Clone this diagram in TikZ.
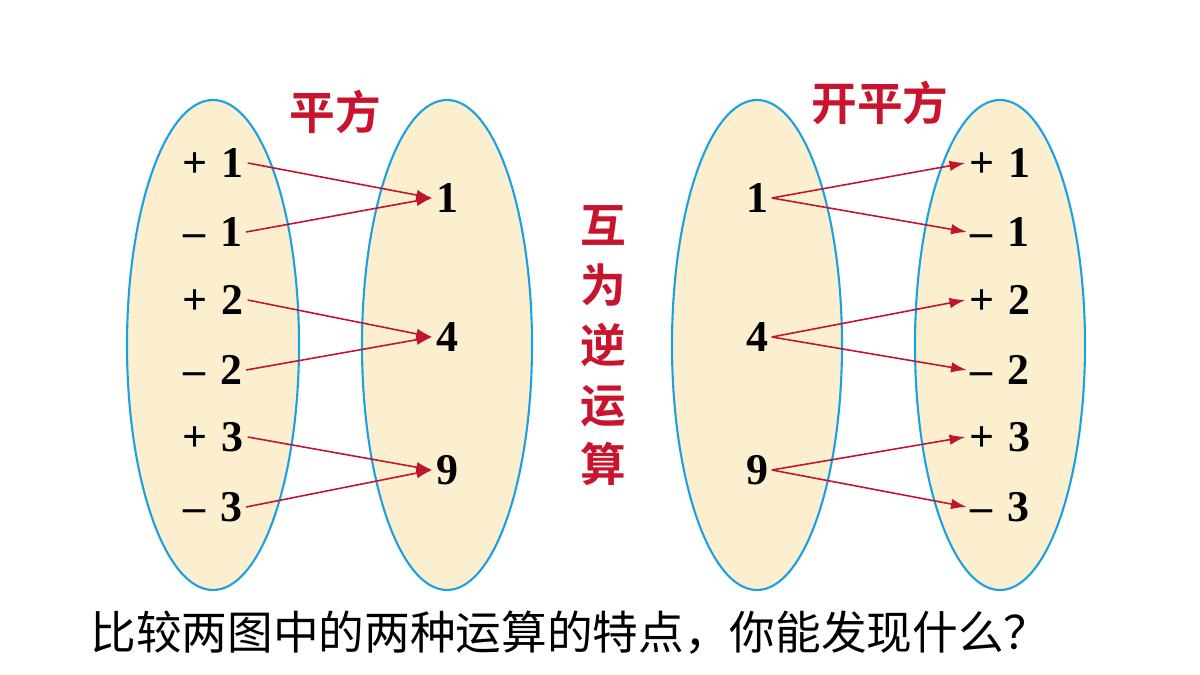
\documentclass[tikz,border=0pt]{standalone}
\usepackage{fontspec}
\setmainfont{Liberation Serif}
\newfontfamily\cjk{Noto Sans CJK SC}
\newfontfamily\cjkbold{Noto Sans CJK SC Bold}
\usetikzlibrary{arrows.meta}
\definecolor{setfill}{RGB}{251,239,208}
\definecolor{setline}{RGB}{27,161,226}
\definecolor{maparrow}{RGB}{192,21,47}
\definecolor{optext}{RGB}{200,20,45}
\begin{document}
\begin{tikzpicture}[x=0.02cm,y=-0.02cm,>={Latex[length=9pt,width=6pt]},
    setbox/.style={draw=setline,fill=setfill,line width=1.2pt},
    num/.style={font=\fontsize{25}{28}\selectfont\bfseries,inner sep=2pt},
    op/.style={text=optext,font=\cjkbold\fontsize{26}{30}\selectfont},
    maplink/.style={->,draw=maparrow,line width=0.9pt}]
\useasboundingbox (0,0) rectangle (1200,675);

% the four sets
\draw[setbox] (213,345) ellipse (86 and 245);
\draw[setbox] (447,345) ellipse (85 and 245);
\draw[setbox] (757,345) ellipse (85 and 245);
\draw[setbox] (1000,345) ellipse (85 and 245);

% left picture: squaring
\node[num] (lp1) at (213,163) {+\,\,1};
\node[num] (lm1) at (213,232) {\textendash\,\,1};
\node[num] (lp2) at (213,300) {+\,\,2};
\node[num] (lm2) at (213,370) {\textendash\,\,2};
\node[num] (lp3) at (213,437) {+\,\,3};
\node[num] (lm3) at (213,507) {\textendash\,\,3};
\node[num] (ls1) at (447,198) {1};
\node[num] (ls4) at (447,337) {4};
\node[num] (ls9) at (447,470) {9};
\foreach \a/\b in {lp1/ls1,lm1/ls1,lp2/ls4,lm2/ls4,lp3/ls9,lm3/ls9}
    \draw[maplink] (\a.east) -- (\b.west);

% right picture: square roots
\node[num] (rs1) at (757,198) {1};
\node[num] (rs4) at (757,337) {4};
\node[num] (rs9) at (757,470) {9};
\node[num] (rp1) at (1000,163) {+\,\,1};
\node[num] (rm1) at (1000,232) {\textendash\,\,1};
\node[num] (rp2) at (1000,300) {+\,\,2};
\node[num] (rm2) at (1000,370) {\textendash\,\,2};
\node[num] (rp3) at (1000,437) {+\,\,3};
\node[num] (rm3) at (1000,507) {\textendash\,\,3};
\foreach \a/\b in {rs1/rp1,rs1/rm1,rs4/rp2,rs4/rm2,rs9/rp3,rs9/rm3}
    \draw[maplink] (\a.east) -- (\b.west);

% operation names
\node[op] (sq) at (335,112) {平方};
\node[op] (rt) at (880,103) {开平方};
\node[op,align=center,font=\cjkbold\fontsize{26}{34}\selectfont] (inv) at (603,346) {互\\为\\逆\\运\\算};

% question
\node[font=\cjk\fontsize{26}{30}\selectfont] (ask) at (570,633) {比较两图中的两种运算的特点，你能发现什么？};
\end{tikzpicture}
\end{document}
